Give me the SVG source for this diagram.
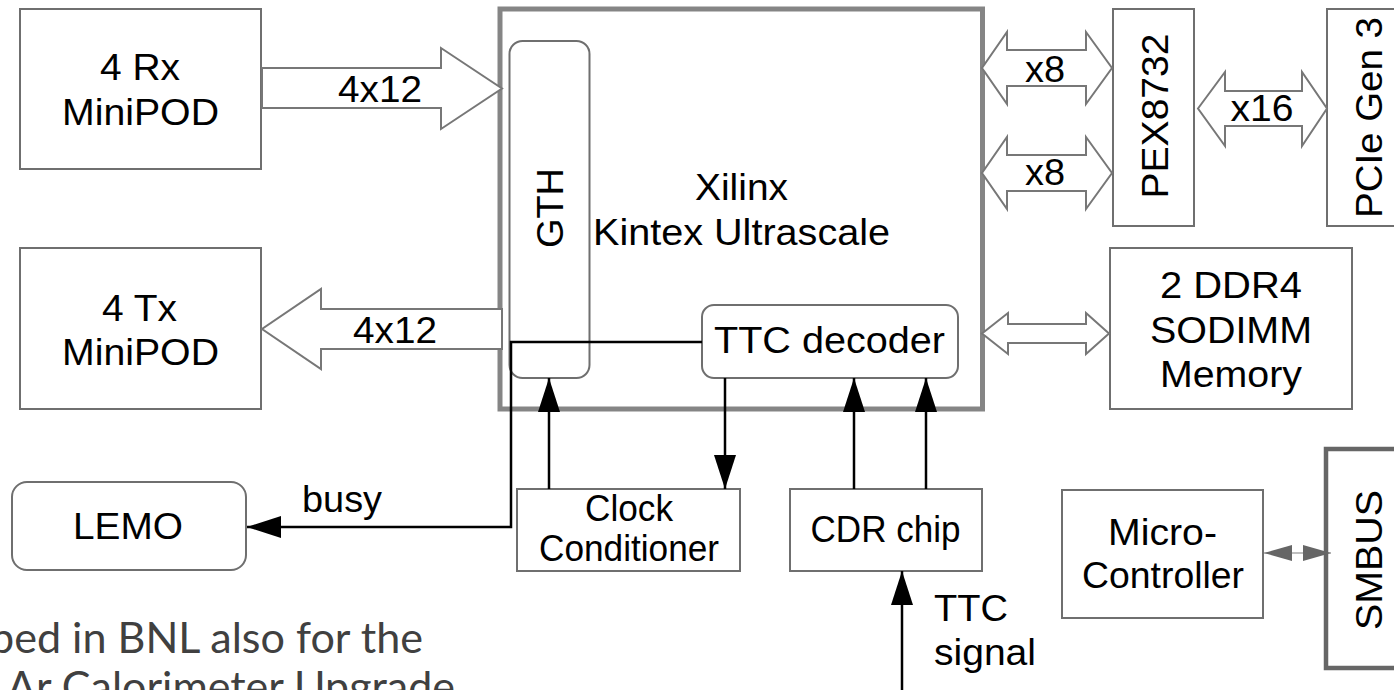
<svg xmlns="http://www.w3.org/2000/svg" width="1394" height="690" viewBox="0 0 1394 690">
<defs>
<style>
.box{fill:#fff;stroke:#6f6f6f;stroke-width:2}
.chip{fill:#fff;stroke:#858585;stroke-width:5}
.bus{fill:#fff;stroke:#666;stroke-width:4.5}
.blk{fill:#fff;stroke:#777;stroke-width:2;stroke-linejoin:miter}
.t{font-family:"Liberation Sans",Arial,sans-serif;font-size:37px;fill:#000;text-anchor:middle}
.w{stroke:#000;stroke-width:2.5;fill:none}
.note{font-family:Lato,"Open Sans",sans-serif;font-size:42px;fill:#404040}
</style>
<marker id="ah" markerWidth="34" markerHeight="22" viewBox="0 0 34 22" refX="34" refY="11" orient="auto" markerUnits="userSpaceOnUse">
<path d="M0,0 L34,11 L0,22 Z" fill="#000"/>
</marker>
<marker id="gh" markerWidth="28" markerHeight="16" viewBox="0 0 28 16" refX="28" refY="8" orient="auto-start-reverse" markerUnits="userSpaceOnUse">
<path d="M0,0 L28,8 L0,16 Z" fill="#666"/>
</marker>
</defs>

<g id="rx-minipod">
<rect class="box" x="20" y="9" width="241" height="160"/>
<text class="t" x="140" y="80" textLength="80" lengthAdjust="spacingAndGlyphs">4 Rx</text>
<text class="t" x="140.5" y="125" textLength="157" lengthAdjust="spacingAndGlyphs">MiniPOD</text>
</g>

<g id="tx-minipod">
<rect class="box" x="20" y="248" width="241" height="161"/>
<text class="t" x="139.5" y="321" textLength="75" lengthAdjust="spacingAndGlyphs">4 Tx</text>
<text class="t" x="140.5" y="365" textLength="157" lengthAdjust="spacingAndGlyphs">MiniPOD</text>
</g>

<g id="xilinx">
<rect class="chip" x="500" y="9" width="482.5" height="400"/>
<text class="t" x="741.5" y="200" textLength="93" lengthAdjust="spacingAndGlyphs">Xilinx</text>
<text class="t" x="741.5" y="245" textLength="297" lengthAdjust="spacingAndGlyphs">Kintex Ultrascale</text>
</g>

<g id="gth">
<rect class="box" x="509.5" y="41" width="80" height="337" rx="13" ry="13" stroke-width="1.8"/>
<text class="t" transform="translate(563,208) rotate(-90)" x="0" y="0" textLength="80" lengthAdjust="spacingAndGlyphs">GTH</text>
</g>

<g id="ttc-decoder">
<rect class="box" x="702" y="305" width="256" height="73" rx="12" ry="12"/>
<text class="t" x="829.5" y="353" textLength="231" lengthAdjust="spacingAndGlyphs">TTC decoder</text>
</g>

<g id="pex8732">
<rect class="box" x="1113" y="9" width="81" height="217"/>
<text class="t" transform="translate(1168,116) rotate(-90)" x="0" y="0" textLength="165" lengthAdjust="spacingAndGlyphs">PEX8732</text>
</g>

<g id="pcie">
<rect class="box" x="1327" y="9" width="80" height="217"/>
<text class="t" transform="translate(1382,117.5) rotate(-90)" x="0" y="0" textLength="201" lengthAdjust="spacingAndGlyphs">PCIe Gen 3</text>
</g>

<g id="ddr4">
<rect class="box" x="1110" y="248" width="242" height="161"/>
<text class="t" x="1231" y="298" textLength="142" lengthAdjust="spacingAndGlyphs">2 DDR4</text>
<text class="t" x="1231" y="343" textLength="162" lengthAdjust="spacingAndGlyphs">SODIMM</text>
<text class="t" x="1231" y="387" textLength="142" lengthAdjust="spacingAndGlyphs">Memory</text>
</g>

<g id="lemo">
<rect class="box" x="12" y="482" width="234" height="88" rx="15" ry="15"/>
<text class="t" x="128" y="539" textLength="110" lengthAdjust="spacingAndGlyphs">LEMO</text>
</g>

<g id="clock-conditioner">
<rect class="box" x="517" y="489" width="223" height="82"/>
<text class="t" x="629" y="521" font-size="35" textLength="88" lengthAdjust="spacingAndGlyphs">Clock</text>
<text class="t" x="629" y="561" font-size="35" textLength="180" lengthAdjust="spacingAndGlyphs">Conditioner</text>
</g>

<g id="cdr-chip">
<rect class="box" x="790" y="489" width="192" height="82"/>
<text class="t" x="885.5" y="542" font-size="35" textLength="150" lengthAdjust="spacingAndGlyphs">CDR chip</text>
</g>

<g id="micro-controller">
<rect class="box" x="1062" y="490" width="201" height="128"/>
<text class="t" x="1162.5" y="545" font-size="35" textLength="109" lengthAdjust="spacingAndGlyphs">Micro-</text>
<text class="t" x="1163" y="588" font-size="35" textLength="162" lengthAdjust="spacingAndGlyphs">Controller</text>
</g>

<g id="smbus">
<rect class="bus" x="1326" y="449" width="80" height="219"/>
<text class="t" transform="translate(1382,560) rotate(-90)" x="0" y="0" textLength="140" lengthAdjust="spacingAndGlyphs">SMBUS</text>
</g>

<g id="connectors">
<polygon class="blk" points="262,68 441,68 441,48 502,88.5 441,129 441,108 262,108"/>
<text class="t" x="380" y="102" textLength="84" lengthAdjust="spacingAndGlyphs">4x12</text>
<polygon class="blk" points="502,309 321,309 321,289 262,329 321,369 321,349 502,349"/>
<text class="t" x="395" y="343" textLength="84" lengthAdjust="spacingAndGlyphs">4x12</text>

<polygon class="blk" points="982,68 1007,32 1007,50 1086,50 1086,32 1112,68 1086,104 1086,86 1007,86 1007,104"/>
<text class="t" x="1045" y="82" textLength="40" lengthAdjust="spacingAndGlyphs">x8</text>
<polygon class="blk" points="982,173 1007,137 1007,155 1086,155 1086,137 1112,173 1086,209 1086,191 1007,191 1007,209"/>
<text class="t" x="1045" y="185" textLength="40" lengthAdjust="spacingAndGlyphs">x8</text>
<polygon class="blk" points="1198,108.5 1225,72 1225,91 1302,91 1302,72 1327,108.5 1302,146 1302,126 1225,126 1225,146"/>
<text class="t" x="1262" y="121" textLength="63" lengthAdjust="spacingAndGlyphs">x16</text>
<polygon class="blk" points="982,333.5 1008,313 1008,324 1086,324 1086,313 1109,333.5 1086,354 1086,343 1008,343 1008,354"/>

<polyline class="w" points="702,342 511,342 511,527 247,527" marker-end="url(#ah)"/>
<text class="t" x="342" y="512" font-size="35" textLength="80" lengthAdjust="spacingAndGlyphs">busy</text>
<line class="w" x1="549" y1="489" x2="549" y2="378" marker-end="url(#ah)"/>
<line class="w" x1="725" y1="378" x2="725" y2="489" marker-end="url(#ah)"/>
<line class="w" x1="854" y1="489" x2="854" y2="378" marker-end="url(#ah)"/>
<line class="w" x1="926" y1="489" x2="926" y2="378" marker-end="url(#ah)"/>
<line class="w" x1="902" y1="690" x2="902" y2="571" marker-end="url(#ah)"/>
<text class="t" x="934" y="621" font-size="35" text-anchor="start" style="text-anchor:start" textLength="74" lengthAdjust="spacingAndGlyphs">TTC</text>
<text class="t" x="934" y="665" font-size="35" style="text-anchor:start" textLength="102" lengthAdjust="spacingAndGlyphs">signal</text>

<line x1="1264" y1="553" x2="1331" y2="553" stroke="#aaa" stroke-width="1.5" marker-start="url(#gh)" marker-end="url(#gh)"/>
</g>

<g id="caption">
<text class="note" x="-10" y="653" textLength="433" lengthAdjust="spacingAndGlyphs">ped in BNL also for the</text>
<text class="note" x="7" y="702" textLength="448" lengthAdjust="spacingAndGlyphs">Ar Calorimeter Upgrade</text>
</g>
</svg>
